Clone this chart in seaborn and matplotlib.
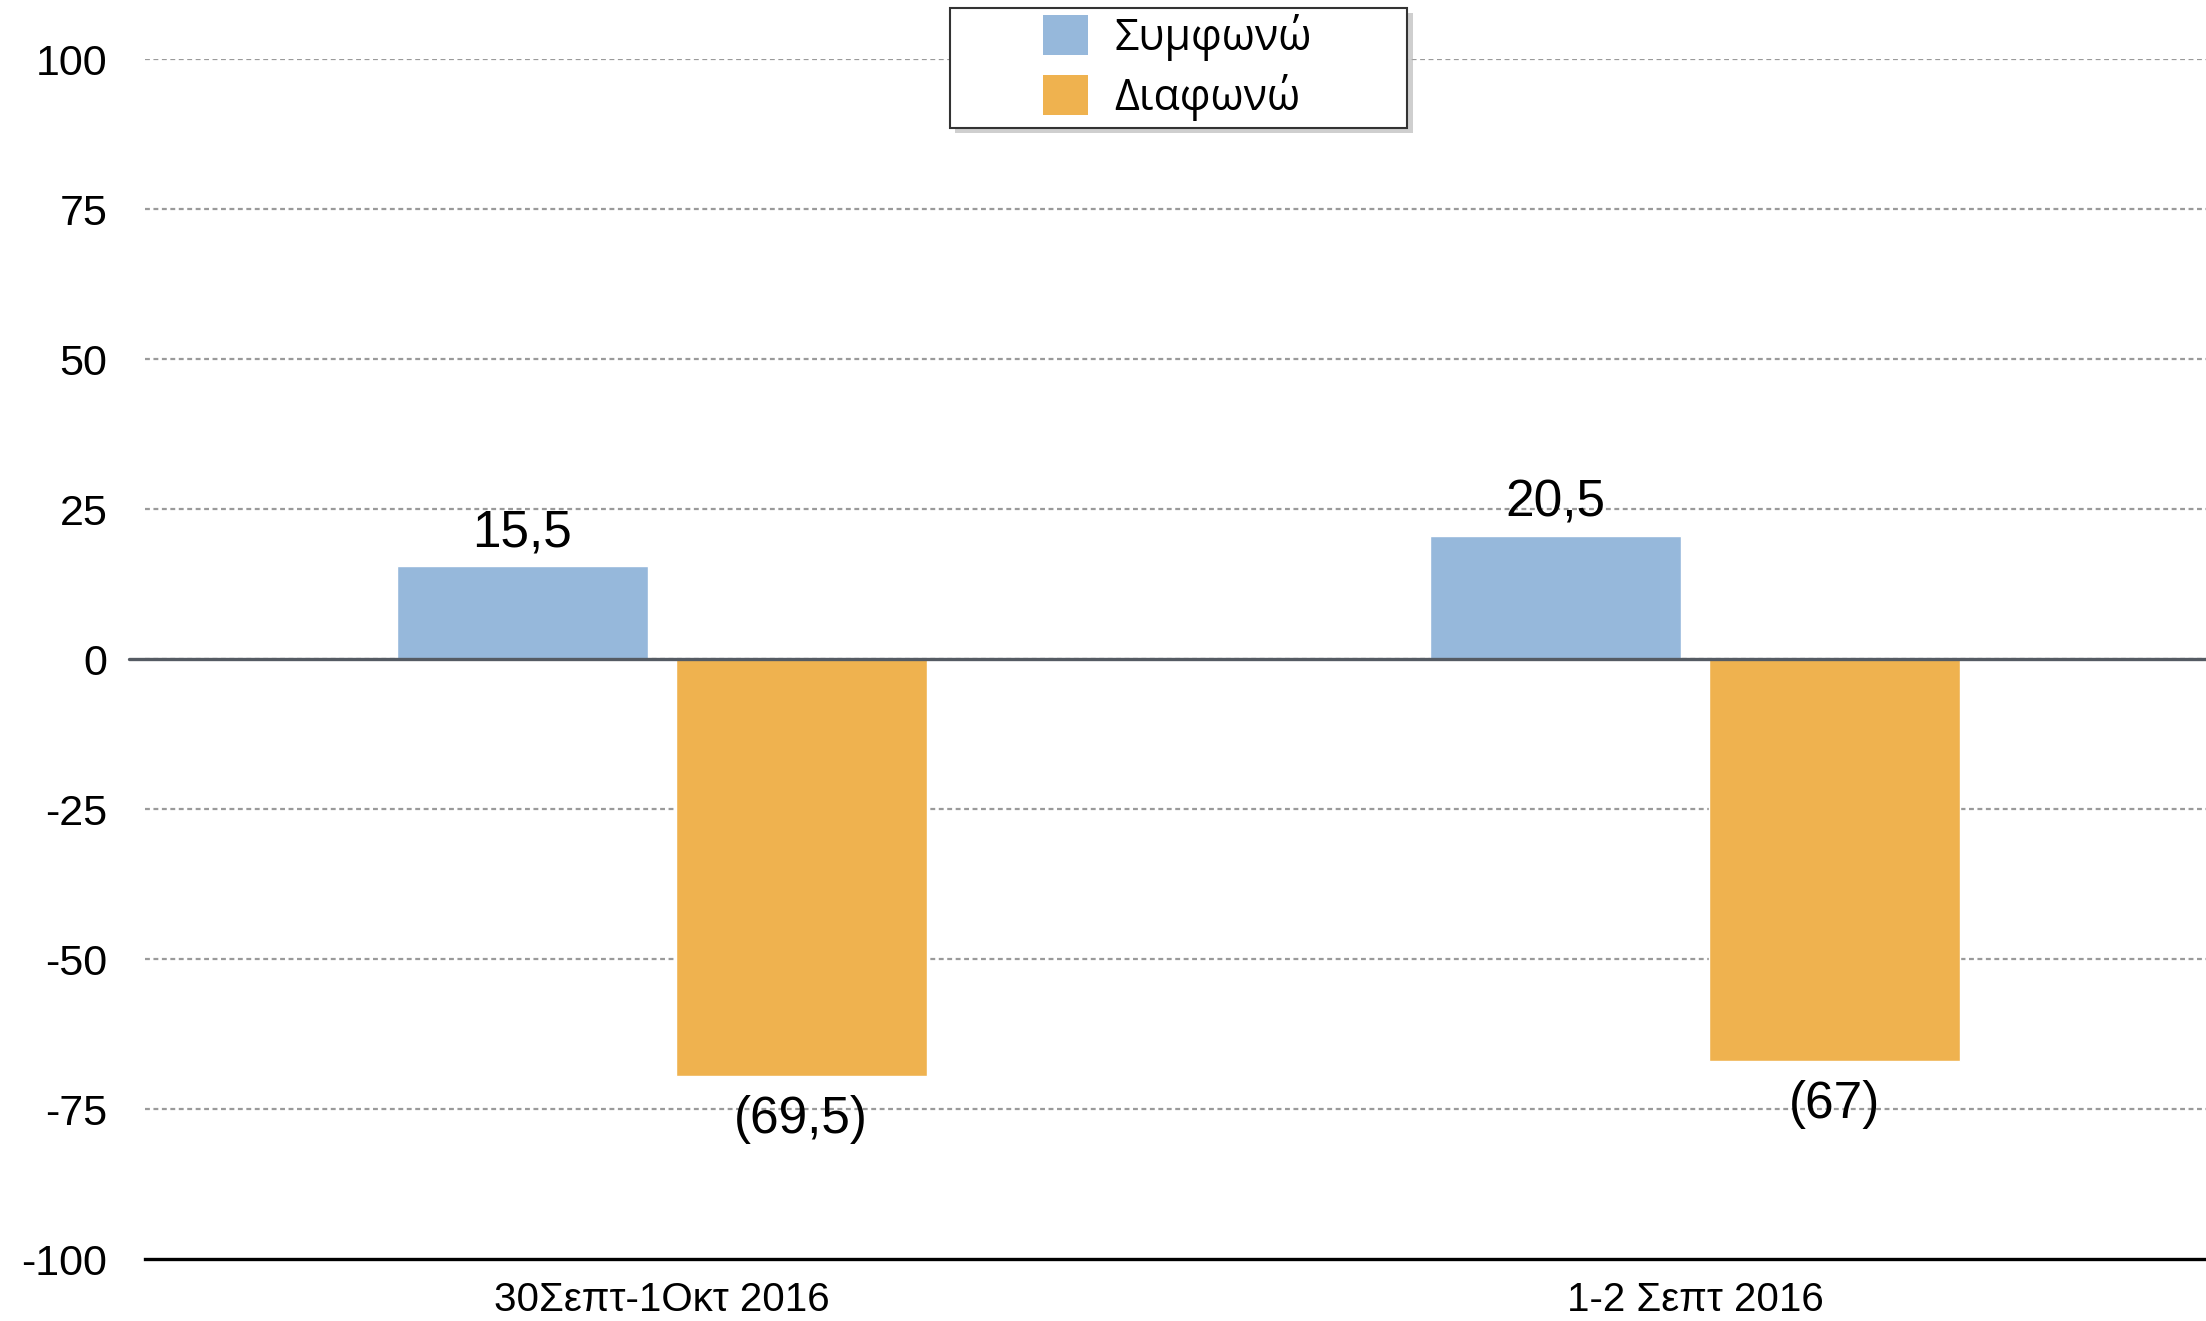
import matplotlib
matplotlib.use("Agg")
import matplotlib.pyplot as plt
import matplotlib.patches as mpatches
import seaborn as sns
import pandas as pd

periods = ["30Σεπτ-1Οκτ 2016", "1-2 Σεπτ 2016"]
series_names = ["Συμφωνώ", "Διαφωνώ"]
agree = [15.5, 20.5]
disagree = [-69.5, -67.0]
agree_labels = ["15,5", "20,5"]
disagree_labels = ["(69,5)", "(67)"]
y_ticks = [-100, -75, -50, -25, 0, 25, 50, 75, 100]
colors = ["#96B8DB", "#EFB24F"]

df = pd.DataFrame({
    "period": periods * 2,
    "series": [series_names[0]] * 2 + [series_names[1]] * 2,
    "value": agree + disagree,
})

sns.set_theme(style="white")
plt.rcParams["font.family"] = ["Liberation Sans", "DejaVu Sans"]
plt.rcParams["text.color"] = "black"

fig = plt.figure(figsize=(22.06, 13.21), dpi=100)
ax = fig.add_axes([0.0657, 0.0469, 0.937, 0.9084])

sns.barplot(data=df, x="period", y="value", hue="series", order=periods,
            hue_order=series_names, palette=colors, saturation=1,
            width=0.54, gap=0.1, ax=ax, legend=False, zorder=3)

ax.set_ylim(-100, 100)
ax.set_xlim(-0.5, 1.5)
ax.set_yticks(y_ticks)
ax.set_yticklabels([str(v) for v in y_ticks])
ax.set_xlabel("")
ax.set_ylabel("")

for y in y_ticks[1:]:
    ax.axhline(y, color="#9a9a9a", lw=1.6, ls=(0, (2.2, 1.6)), zorder=1)
ax.axhline(0, xmin=-0.0078, xmax=1, color="#555b63", lw=2.4, zorder=4,
           clip_on=False)

for s in ["left", "right", "top"]:
    ax.spines[s].set_visible(False)
ax.spines["bottom"].set_color("black")
ax.spines["bottom"].set_linewidth(2.4)

ax.tick_params(axis="y", length=0, pad=27, labelsize=31, labelcolor="black")
ax.tick_params(axis="x", length=0, pad=16, labelsize=29, labelcolor="black")

ax.bar_label(ax.containers[0], labels=agree_labels, padding=6, fontsize=37,
             color="black")
ax.bar_label(ax.containers[1], labels=disagree_labels, padding=14, fontsize=37,
             color="black")

# legend frame with shadow
x0, y0, w, h = 0.4306, 0.9031, 0.2072, 0.0908
shadow = mpatches.Rectangle((x0 + 0.0025, y0 - 0.004), w, h, transform=fig.transFigure,
                            facecolor="#b0b0b0", edgecolor="none", alpha=0.6, zorder=0)
frame = mpatches.Rectangle((x0, y0), w, h, transform=fig.transFigure,
                           facecolor="white", edgecolor="#333333", lw=1.5, zorder=1)
fig.patches.extend([shadow, frame])

handles = [mpatches.Patch(facecolor=c, edgecolor="none") for c in colors]
leg = fig.legend(handles, series_names, loc="center", bbox_to_anchor=(0.5337, 0.9489),
                 frameon=False, borderpad=0, handlelength=1.05,
                 handleheight=1.05, handletextpad=0.6, labelspacing=0.3,
                 prop={"family": ["Open Sans", "DejaVu Sans"], "size": 31})
for t in leg.get_texts():
    t.set_color("black")
leg.set_zorder(5)

fig.savefig("out.png", dpi=100)
